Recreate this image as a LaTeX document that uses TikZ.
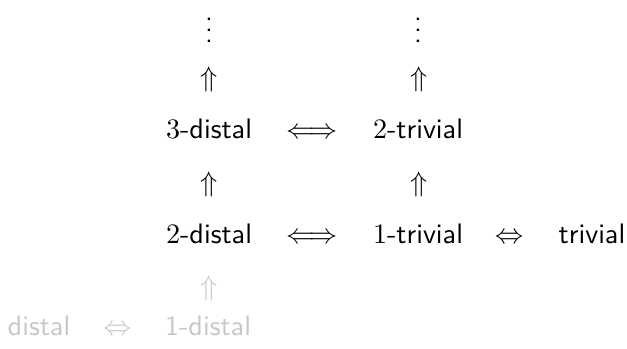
\documentclass[tikz,border=0pt]{standalone}
\usepackage{amsmath,amssymb}
\usetikzlibrary{positioning}

\begin{document}
\begin{tikzpicture}[x=0.355pt, y=-0.355pt, font=\sffamily,
	word/.style={inner sep=0pt, anchor=base},
	sym/.style={inner sep=0pt, anchor=center},
	faded/.style={text=black!22}]
	\useasboundingbox (0,0) rectangle (627,348);

	% top dots and arrows
	\node[sym] (dots_a) at (209,22) {$\vdots$};
	\node[sym] (dots_b) at (418,22) {$\vdots$};
	\node[sym] (up_a3) at (209,79) {$\Uparrow$};
	\node[sym] (up_b3) at (419,79) {$\Uparrow$};

	% row 3
	\node[word] (distal_3) at (209,138) {$3$-distal};
	\node[word] (iff_3) at (312,138) {$\Longleftrightarrow$};
	\node[word] (trivial_2) at (418,138) {$2$-trivial};

	\node[sym] (up_a2) at (209,184) {$\Uparrow$};
	\node[sym] (up_b2) at (419,184) {$\Uparrow$};

	% row 2
	\node[word] (distal_2) at (209,243) {$2$-distal};
	\node[word] (iff_2) at (312,243) {$\Longleftrightarrow$};
	\node[word] (trivial_1) at (418,243) {$1$-trivial};
	\node[word] (iff_t) at (510,243) {$\Leftrightarrow$};
	\node[word] (trivial) at (592,243) {trivial};

	% faded bottom row
	\node[sym, faded] (up_a1) at (209,288) {$\Uparrow$};
	\node[word, faded] (distal) at (39,335) {distal};
	\node[word, faded] (iff_d) at (118,335) {$\Leftrightarrow$};
	\node[word, faded] (distal_1) at (208,335) {1-distal};
\end{tikzpicture}
\end{document}
